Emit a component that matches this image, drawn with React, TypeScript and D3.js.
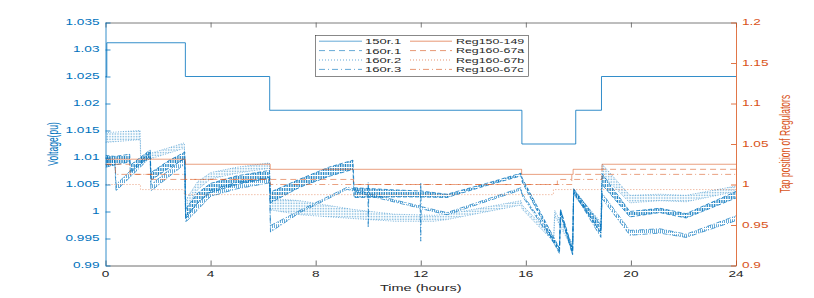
import React, { useEffect, useRef } from 'react'
import * as d3 from 'd3'

const W = 814
const H = 298
const M = { left: 105.5, right: 736, top: 22.5, bottom: 265.5 }
const BLUE = '#0072BD'
const ORANGE = '#D95319'
const FONT = "'Liberation Sans', Arial, Helvetica, sans-serif"

const hourTicks = [0, 4, 8, 12, 16, 20, 24]
const voltTicks = [0.99, 0.995, 1, 1.005, 1.01, 1.015, 1.02, 1.025, 1.03, 1.035]
const tapTicks = [0.9, 0.95, 1, 1.05, 1.1, 1.15, 1.2]

// regulator 150 ratio, left axis, step after
const r150 = [
  [0, 1.025], [0.05, 1.03125], [3.04, 1.025], [6.25, 1.01875], [15.85, 1.0125],
  [17.9, 1.01875], [18.88, 1.025], [24, 1.025],
]

// node voltages: [hour, low edge, high edge] of the oscillating band
const v160r1 = [
  [0, 1.0086, 1.0104], [0.35, 1.0086, 1.0102], [0.92, 1.0092, 1.0106], [0.95, 1.0072, 1.0086],
  [1.7, 1.0102, 1.0114], [1.73, 1.0058, 1.0072], [2.4, 1.008, 1.0094], [3.02, 1.0098, 1.011],
  [3.05, 0.9986, 1.0004], [3.5, 1.0016, 1.0034], [4, 1.0035, 1.0052], [5, 1.005, 1.0066],
  [6.24, 1.0062, 1.0076], [6.28, 1.0016, 1.0036], [7.4, 1.0045, 1.006], [8.5, 1.0065, 1.0082],
  [9.42, 1.0078, 1.0095], [9.46, 1.0026, 1.0044], [11, 1.0027, 1.004], [12, 1.0027, 1.0038],
  [13, 1.0026, 1.0032], [14.5, 1.0048, 1.0052], [15.82, 1.0066, 1.0071], [15.86, 1.0055, 1.0062],
  [17.28, 0.9922, 0.9932], [17.32, 0.9995, 1.0004], [17.78, 0.992, 0.993], [17.82, 1.0034, 1.0042],
  [18.86, 0.996, 0.9975], [18.9, 1.005, 1.007], [19.96, 0.999, 1.0], [21.1, 0.9998, 1.0006],
  [22.1, 0.9988, 0.9996], [24, 1.0025, 1.0037],
]

const v160r2 = [
  [0, 1.0128, 1.0146], [1.32, 1.0133, 1.015], [1.34, 1.0092, 1.0102], [3.0, 1.0117, 1.0127],
  [3.04, 1.0002, 1.002], [3.5, 1.004, 1.0055], [4, 1.006, 1.0072], [5, 1.0071, 1.0082],
  [6.24, 1.008, 1.009], [6.28, 1.0003, 1.0024], [7.4, 0.9994, 1.002], [9.4, 0.9987, 1.0004],
  [11, 0.9982, 0.9995], [12.5, 0.9982, 0.9993], [13, 0.9985, 0.9995], [15.82, 1.0012, 1.002],
  [15.86, 1.0004, 1.0012], [17.06, 0.9944, 0.9952], [17.1, 0.9992, 1.0002], [17.78, 0.993, 0.994],
  [17.82, 1.003, 1.004], [18.86, 0.9968, 0.998], [18.9, 1.0068, 1.0088], [19.96, 1.0016, 1.003],
  [21.1, 1.002, 1.0032], [22.1, 1.0018, 1.003], [24, 1.0037, 1.0047],
]

const v160r3 = [
  [0, 1.0082, 1.0098], [0.36, 1.0086, 1.0096], [0.4, 1.0038, 1.005], [1.7, 1.01, 1.011],
  [1.73, 1.0038, 1.005], [3.02, 1.0088, 1.01], [3.05, 0.998, 0.9992], [4, 1.0028, 1.004],
  [5, 1.0042, 1.0054], [6.24, 1.0053, 1.0063], [6.28, 0.9962, 0.9974], [7.4, 0.9998, 1.0002],
  [9.2, 1.0041, 1.0045], [9.44, 1.0038, 1.0042], [9.99, 1.003, 1.0034], [10, 0.997, 1.0054],
  [10.02, 1.0029, 1.0033], [11.98, 1.0006, 1.001], [12, 0.9945, 1.0054], [12.02, 1.0005, 1.0009],
  [13, 0.9994, 0.9998], [15.82, 1.004, 1.0044], [15.86, 1.0029, 1.0033], [17.28, 0.9926, 0.9932],
  [17.32, 0.9998, 1.0004], [17.78, 0.992, 0.9926], [17.82, 1.0036, 1.0042], [18.86, 0.9952, 0.996],
  [18.9, 1.0024, 1.0034], [19.96, 0.9956, 0.9965], [21.1, 0.996, 0.9968], [22.1, 0.9952, 0.9958],
  [24, 0.9983, 0.9992],
]

// regulator tap positions, right axis, step after
const reg150149 = [[0, 1.03125], [3.04, 1.025], [6.27, 1.01875], [15.84, 1.0125], [17.8, 1.01875], [18.9, 1.025], [24, 1.025]]
const reg16067a = [[0, 1.025], [0.93, 1.0125], [1.75, 1.00625], [9.44, 1], [17.2, 1.00625], [17.75, 1.0125], [18.9, 1.01875], [24, 1.01875]]
const reg16067b = [[0, 1], [1.33, 0.99375], [3.0, 0.9875], [17.05, 0.99375], [24, 0.99375]]
const reg16067c = [[0, 1.025], [0.38, 1.0125], [3.04, 1.00625], [6.27, 1], [17.75, 1.00625], [18.9, 1.0125], [24, 1.0125]]

const voltNames = ['150r.1', '160r.1', '160r.2', '160r.3']
const tapNames = ['Reg150-149', 'Reg160-67a', 'Reg160-67b', 'Reg160-67c']
const dashes = ['none', '6,4', '1,2', '6,3,1,3']

type TxtOpt = { sx: number; sy: number; anchor: string; fill: string; size: number; rot?: boolean }

function txt(g: any, x: number, y: number, s: string, o: TxtOpt) {
  g.append('text')
    .attr('transform', `translate(${x},${y}) scale(${o.sx},${o.sy})${o.rot ? ' rotate(-90)' : ''}`)
    .attr('text-anchor', o.anchor)
    .attr('dominant-baseline', 'central')
    .attr('font-family', FONT)
    .attr('font-size', o.size)
    .attr('fill', o.fill)
    .text(s)
}

export default function App() {
  const ref = useRef<SVGSVGElement>(null)

  useEffect(() => {
    const svg = d3.select(ref.current)
    svg.selectAll('*').remove()

    const x = d3.scaleLinear().domain([0, 24]).range([M.left, M.right])
    const yV = d3.scaleLinear().domain([0.99, 1.035]).range([M.bottom, M.top])
    const yT = d3.scaleLinear().domain([0.9, 1.2]).range([M.bottom, M.top])

    const defs = svg.append('defs')
    defs.append('clipPath').attr('id', 'plot')
      .append('rect')
      .attr('x', M.left).attr('y', M.top)
      .attr('width', M.right - M.left).attr('height', M.bottom - M.top)

    // textures that stand in for the dense zigzag of each trace
    const pDash = defs.append('pattern').attr('id', 'pDash').attr('patternUnits', 'userSpaceOnUse')
      .attr('width', 1.7).attr('height', 4)
    pDash.append('rect').attr('width', 0.9).attr('height', 3).attr('fill', BLUE).attr('opacity', 0.9)
    const pDot = defs.append('pattern').attr('id', 'pDot').attr('patternUnits', 'userSpaceOnUse')
      .attr('width', 1.6).attr('height', 1.6)
    pDot.append('rect').attr('width', 0.8).attr('height', 0.8).attr('fill', BLUE).attr('opacity', 0.55)
    const pDD = defs.append('pattern').attr('id', 'pDD').attr('patternUnits', 'userSpaceOnUse')
      .attr('width', 2).attr('height', 5)
    pDD.append('rect').attr('width', 0.8).attr('height', 3).attr('fill', BLUE).attr('opacity', 0.75)
    pDD.append('rect').attr('y', 4).attr('width', 0.8).attr('height', 0.8).attr('fill', BLUE).attr('opacity', 0.75)

    const plot = svg.append('g').attr('clip-path', 'url(#plot)')

    const bands = [
      { data: v160r2, fill: 'url(#pDot)', dash: '1,1.5', op: 0.6 },
      { data: v160r3, fill: 'url(#pDD)', dash: '5,2,1,2', op: 0.8 },
      { data: v160r1, fill: 'url(#pDash)', dash: '4,2', op: 0.9 },
    ]
    bands.forEach((b) => {
      const area = d3.area<number[]>().x((d) => x(d[0])).y0((d) => yV(d[1])).y1((d) => yV(d[2]))
      plot.append('path').datum(b.data).attr('d', area as any).attr('fill', b.fill)
      ;[1, 2].forEach((k) => {
        const line = d3.line<number[]>().x((d) => x(d[0])).y((d) => yV(d[k]))
        plot.append('path').datum(b.data).attr('d', line as any)
          .attr('fill', 'none').attr('stroke', BLUE).attr('stroke-width', 0.8)
          .attr('stroke-dasharray', b.dash).attr('opacity', b.op)
      })
    })

    const stepV = d3.line<number[]>().x((d) => x(d[0])).y((d) => yV(d[1])).curve(d3.curveStepAfter)
    plot.append('path').datum(r150).attr('d', stepV as any)
      .attr('fill', 'none').attr('stroke', BLUE).attr('stroke-width', 1).attr('opacity', 0.8)

    const stepT = d3.line<number[]>().x((d) => x(d[0])).y((d) => yT(d[1])).curve(d3.curveStepAfter)
    ;[reg150149, reg16067a, reg16067b, reg16067c].forEach((s, i) => {
      plot.append('path').datum(s).attr('d', stepT as any)
        .attr('fill', 'none').attr('stroke', ORANGE).attr('stroke-width', 1)
        .attr('stroke-dasharray', dashes[i]).attr('opacity', 0.55)
    })

    // axes: ticks pointing inward, labels drawn separately
    const axis = (gen: any, tx: number, ty: number, color: string) => {
      const g = svg.append('g').attr('transform', `translate(${tx},${ty})`)
        .call(gen.tickSizeInner(-5).tickSizeOuter(0).tickFormat(() => ''))
      g.selectAll('path,line').attr('stroke', color).attr('stroke-width', 0.8)
      g.selectAll('text').remove()
    }
    axis(d3.axisTop(x).tickValues(hourTicks), 0, M.top, '#5a5a5a')
    axis(d3.axisBottom(x).tickValues(hourTicks), 0, M.bottom, '#4a4a4a')
    axis(d3.axisLeft(yV).tickValues(voltTicks), M.left, 0, BLUE)
    axis(d3.axisRight(yT).tickValues(tapTicks), M.right, 0, ORANGE)

    const tick = { sx: 1.36, sy: 0.85, size: 10 }
    voltTicks.forEach((v) =>
      txt(svg, M.left - 6, yV(v), String(v), { ...tick, anchor: 'end', fill: BLUE }))
    tapTicks.forEach((v) =>
      txt(svg, M.right + 6, yT(v), String(v), { ...tick, anchor: 'start', fill: ORANGE }))
    hourTicks.forEach((h) =>
      txt(svg, x(h), 274.5, String(h), { ...tick, anchor: 'middle', fill: '#262626' }))

    txt(svg, (M.left + M.right) / 2, 288, 'Time (hours)', { sx: 1.45, sy: 0.85, size: 10, anchor: 'middle', fill: '#262626' })
    txt(svg, 53, 144, 'Voltage(pu)', { sx: 1.45, sy: 0.85, size: 10, anchor: 'middle', fill: BLUE, rot: true })
    txt(svg, 785, 144, 'Tap position of Regulators', { sx: 1.5, sy: 0.85, size: 10, anchor: 'middle', fill: ORANGE, rot: true })

    // legend
    const lg = svg.append('g')
    lg.append('rect').attr('x', 315.5).attr('y', 35.5).attr('width', 213).attr('height', 41)
      .attr('fill', 'white').attr('stroke', '#3a3a3a').attr('stroke-width', 0.6)
    const rowY = (i: number) => 41.2 + i * 9.4
    voltNames.forEach((n, i) => {
      lg.append('line').attr('x1', 319).attr('x2', 362).attr('y1', rowY(i)).attr('y2', rowY(i))
        .attr('stroke', BLUE).attr('stroke-width', 1).attr('stroke-dasharray', dashes[i]).attr('opacity', 0.6)
      txt(lg, 365, rowY(i), n, { sx: 1.3, sy: 0.78, size: 10, anchor: 'start', fill: '#262626' })
    })
    tapNames.forEach((n, i) => {
      lg.append('line').attr('x1', 410).attr('x2', 452).attr('y1', rowY(i)).attr('y2', rowY(i))
        .attr('stroke', ORANGE).attr('stroke-width', 1).attr('stroke-dasharray', dashes[i]).attr('opacity', 0.6)
      txt(lg, 456, rowY(i), n, { sx: 1.24, sy: 0.78, size: 10, anchor: 'start', fill: '#262626' })
    })
  }, [])

  return (
    <div style={{ position: 'absolute', left: 0, top: 0 }}>
      <svg ref={ref} width={W} height={H} style={{ display: 'block', background: 'white' }} />
    </div>
  )
}
